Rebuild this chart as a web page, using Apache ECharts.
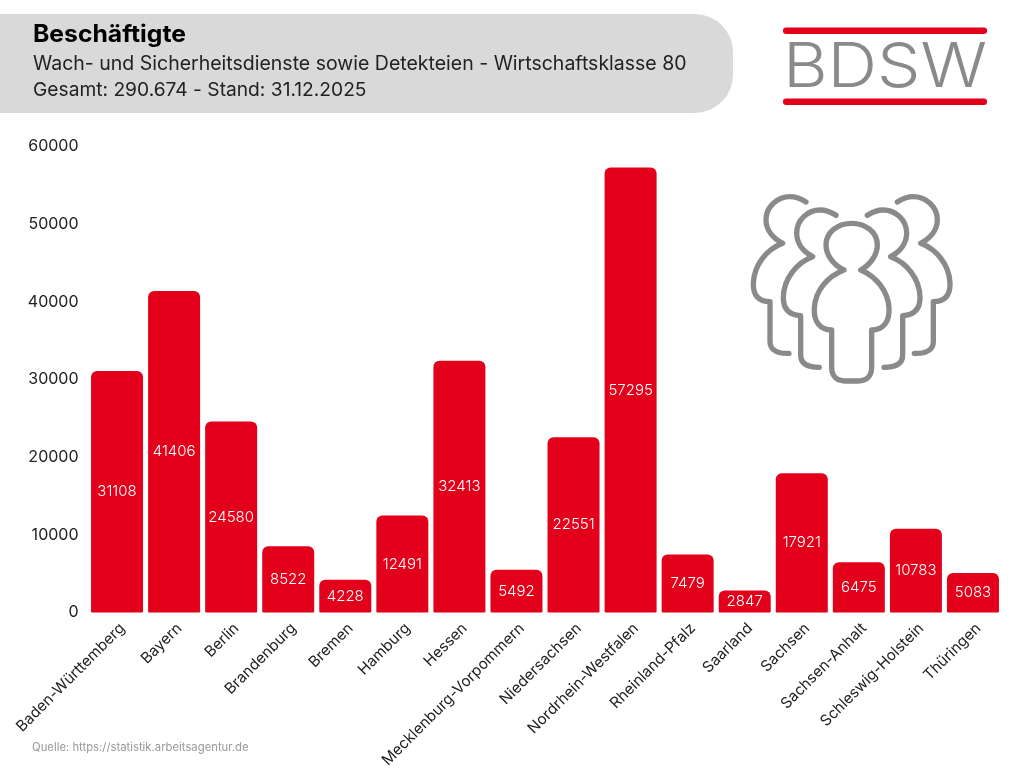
<!DOCTYPE html>
<html><head><meta charset="utf-8">
<style>html,body{margin:0;padding:0;background:#fff}#c{width:1024px;height:768px}</style>
<script src="https://cdn.jsdelivr.net/npm/echarts@6/dist/echarts.min.js"></script>
</head><body><div id="c"></div>
<script>
const categories = ["Baden-Württemberg","Bayern","Berlin","Brandenburg","Bremen","Hamburg","Hessen","Mecklenburg-Vorpommern","Niedersachsen","Nordrhein-Westfalen","Rheinland-Pfalz","Saarland","Sachsen","Sachsen-Anhalt","Schleswig-Holstein","Thüringen"];
const values = [31108,41406,24580,8522,4228,12491,32413,5492,22551,57295,7479,2847,17921,6475,10783,5083];
const FONT = 'Inter';
const GREY = '#888a8b', RED = '#e2001a';
const front = 'M312 270C280 255 258 225 258 195C258 155 295 130 335 130C375 130 412 155 412 195C412 225 390 255 362 270C410 290 445 335 447 385C449 425 430 450 395 450L395 562C395 588 380 603 355 603L315 603C290 603 275 588 275 562L275 450C240 450 221 425 223 385C225 335 260 290 312 270Z';
const mid = 'M288 106C270 94 255 90 240 90C205 90 170 118 170 160C170 190 190 215 218 230C170 248 132 295 130 350C129 385 145 405 182 407L182 525C182 548 200 562 238 562';
const back = 'M198 66C180 54 165 50 150 50C115 50 78 78 78 120C78 150 100 175 128 190C80 208 42 255 40 310C39 345 55 365 90 365L90 485C90 508 110 522 147 520';
echarts.graphic.registerShape('personFront', echarts.graphic.extendPath(front, {}));
echarts.graphic.registerShape('personMid', echarts.graphic.extendPath(mid, {}));
echarts.graphic.registerShape('personBack', echarts.graphic.extendPath(back, {}));
const stroke = {stroke: GREY, lineWidth: 16, lineCap: 'round', lineJoin: 'round', fill: 'none'};
const mirror = {scaleX: -1, x: 670};
const chart = echarts.init(document.getElementById('c'));
chart.setOption({
  animation: false,
  backgroundColor: '#fff',
  textStyle: {fontFamily: FONT},
  grid: {left: 88.5, right: 22.5, top: 146.5, bottom: 155.5, containLabel: false, outerBoundsMode: 'none'},
  xAxis: {type: 'category', data: categories,
    axisLine: {show: false}, axisTick: {show: false},
    axisLabel: {rotate: 45, interval: 0, color: '#222', fontSize: 15.2, fontFamily: FONT, margin: 8, verticalAlign: 'top'}},
  yAxis: {type: 'value', min: 0, max: 60000, interval: 10000,
    axisLine: {show: false}, axisTick: {show: false}, splitLine: {show: false},
    axisLabel: {color: '#222', fontSize: 16, fontFamily: FONT, margin: 10, formatter: v => String(v)}},
  series: [{type: 'bar', data: values, barWidth: 52,
    itemStyle: {color: RED, borderRadius: [6,6,1,1]},
    label: {show: true, position: 'inside', color: '#fff', fontSize: 15, fontWeight: 300, fontFamily: FONT}}],
  graphic: [
    {type: 'rect', z: -1, shape: {x: -60, y: 14, width: 793, height: 99, r: 38}, style: {fill: '#d9d9d9'}},
    {type: 'text', x: 33, y: 35, scaleX: 1.03, style: {text: 'Beschäftigte', font: 'bold 24px Inter', fill: '#000', textVerticalAlign: 'middle'}},
    {type: 'text', x: 33, y: 64, style: {text: 'Wach- und Sicherheitsdienste sowie Detekteien - Wirtschaftsklasse 80', font: '19.5px Inter', fill: '#222', textVerticalAlign: 'middle'}},
    {type: 'text', x: 33, y: 90, style: {text: 'Gesamt: 290.674 - Stand: 31.12.2025', font: '19.2px Inter', fill: '#222', textVerticalAlign: 'middle'}},
    {type: 'text', x: 32, y: 748, style: {text: 'Quelle: https://statistik.arbeitsagentur.de', font: '11.3px Inter', fill: '#999', textVerticalAlign: 'middle'}},
    {type: 'rect', shape: {x: 783, y: 27.5, width: 204, height: 6.5, r: 3}, style: {fill: RED}},
    {type: 'rect', shape: {x: 783, y: 98.5, width: 204, height: 6.5, r: 3}, style: {fill: RED}},
    {type: 'text', x: 885, y: 68.5, scaleX: 1.11, style: {text: 'BDSW', font: '300 62px Inter', fill: GREY, textAlign: 'center', textVerticalAlign: 'middle'}},
    {type: 'group', x: 740, y: 180, scaleX: 1/3, scaleY: 1/3, children: [
      {type: 'personBack', style: stroke},
      {type: 'personMid', style: stroke},
      {type: 'personBack', ...mirror, style: stroke},
      {type: 'personMid', ...mirror, style: stroke},
      {type: 'personFront', style: stroke}
    ]}
  ]
});
</script></body></html>
